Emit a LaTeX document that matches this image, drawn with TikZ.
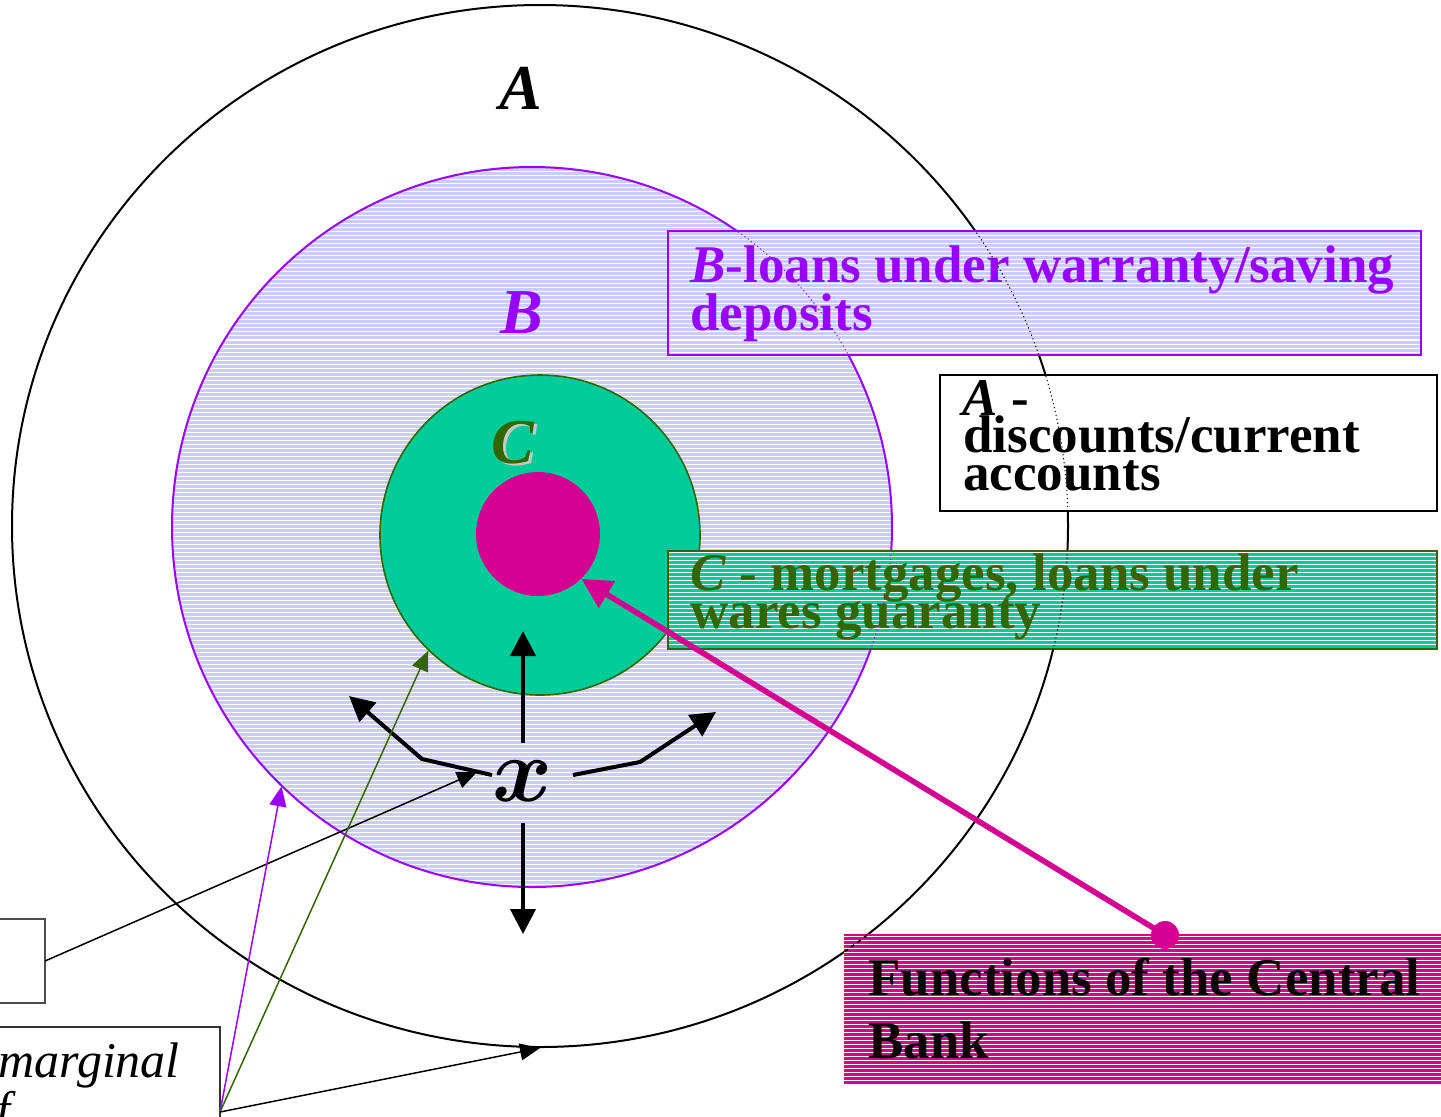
\documentclass[tikz,border=0pt]{standalone}
\usepackage{graphicx}
\usepackage{fontspec}
\setmainfont{Liberation Serif}
\usetikzlibrary{arrows.meta,patterns.meta,shapes.geometric}
\definecolor{bpurple}{RGB}{153,0,255}
\definecolor{lav}{RGB}{204,204,255}
\definecolor{cgreen}{RGB}{0,204,153}
\definecolor{dgreen}{RGB}{51,102,0}
\definecolor{mag}{RGB}{212,0,145}
\definecolor{shadowgrey}{RGB}{200,200,200}
\tikzset{
  stripes/.style={preaction={fill=#1}, pattern={Lines[angle=0,distance=2pt,line width=0.5pt]}, pattern color=white},
  boxnode/.style={rectangle, anchor=north west, inner sep=0pt, outer sep=0pt},
  boxtext/.style={anchor=base west, inner sep=0pt, font=\fontsize{26.5}{26.5}\selectfont\bfseries},
  biglabel/.style={anchor=base, inner sep=0pt, font=\fontsize{32}{32}\selectfont\bfseries\itshape},
  thk/.style={line width=2pt, -{Triangle[length=12.5pt,width=12.5pt]}},
  thn/.style={line width=0.75pt, -{Triangle[length=10pt,width=8.5pt]}},
  ghost/.style={line width=0.5pt, dash pattern=on 0.6pt off 1.4pt},
}
\begin{document}
\begin{tikzpicture}[x=0.5pt,y=-0.5pt]
\useasboundingbox (0,0) rectangle (1441,1116);
\clip (0,0) rectangle (1441,1116);
\fill[white] (0,0) rectangle (1441,1116);

% circles
\node[ellipse, draw, line width=1pt, minimum width=528pt, minimum height=521pt, inner sep=0pt] (circA) at (540,526) {};
\node[circle, draw=bpurple, line width=1pt, stripes=lav, minimum size=360pt, inner sep=0pt] (circB) at (532,527) {};
\node[circle, draw=dgreen, line width=0.8pt, fill=cgreen, minimum size=160pt, inner sep=0pt] (circC) at (540,535) {};
\node[circle, fill=mag, minimum size=62pt, inner sep=0pt] (pinkc) at (538,534) {};

% circle labels
\node[biglabel] (labA) at (521,109) {A};
\node[biglabel, text=bpurple] (labB) at (522,333) {B};
\node[biglabel, text=shadowgrey] (labCs) at (516,465) {C};
\node[biglabel, text=dgreen] (labC) at (513,463) {C};

% boxes
\node[boxnode, draw=bpurple, line width=1pt, stripes=lav, minimum width=376.5pt, minimum height=62pt] (boxB) at (668,231) {};
\node[boxnode, draw=black, line width=1pt, fill=white, minimum width=248.5pt, minimum height=68pt] (boxA) at (940,375) {};
\node[boxnode, draw=dgreen, line width=1pt, stripes=cgreen, minimum width=384.5pt, minimum height=49pt] (boxC) at (668,551) {};
\node[boxnode, stripes=mag, minimum width=300pt, minimum height=75.5pt] (boxF) at (844,934) {};
\node[boxnode, draw=black!70, line width=0.6pt, fill=white, minimum width=30pt, minimum height=42pt] (box1) at (-15,919) {};
\node[boxnode, draw=black!80, line width=0.6pt, fill=white, minimum width=120pt, minimum height=60pt] (box2) at (-20,1027) {};

% circle outlines showing through the striped boxes
\begin{scope}
\clip (boxB.south west) rectangle (boxB.north east);
\draw[ghost, black] (540,526) ellipse [x radius=528, y radius=521];
\draw[ghost, bpurple] (532,527) circle [radius=360];
\end{scope}
\begin{scope}
\clip (boxA.south west) rectangle (boxA.north east);
\draw[ghost, black] (540,526) ellipse [x radius=528, y radius=521];
\end{scope}
\begin{scope}
\clip (boxC.south west) rectangle (boxC.north east);
\draw[ghost, black] (540,526) ellipse [x radius=528, y radius=521];
\draw[ghost, bpurple] (532,527) circle [radius=360];
\end{scope}
\begin{scope}
\clip (boxF.south west) rectangle (boxF.north east);
\draw[ghost, black, line width=0.8pt, dash pattern=on 2pt off 2pt] (540,526) ellipse [x radius=528, y radius=521];
\end{scope}

% box texts
\node[boxtext, text=bpurple] (tB1) at (690,282) {\textit{B}-loans under warranty/saving};
\node[boxtext, text=bpurple] (tB2) at (690,330) {deposits};
\node[boxtext] (tA1) at (962,415) {\textit{A} -};
\node[boxtext] (tA2) at (963,452) {discounts/current};
\node[boxtext] (tA3) at (963,490) {accounts};
\node[boxtext, text=dgreen] (tC1) at (690,590) {\textit{C} - mortgages, loans under};
\node[boxtext, text=dgreen] (tC2) at (690,628) {wares guaranty};
\node[boxtext] (tF1) at (868,995) {Functions of the Central};
\node[boxtext] (tF2) at (868,1058) {Bank};
\node[anchor=base west, inner sep=0pt, font=\fontsize{25}{25}\selectfont\itshape] (tM1) at (-2,1077) {marginal};
\node[anchor=base west, inner sep=0pt, font=\fontsize{25}{25}\selectfont\itshape] (tM2) at (-4,1126) {f};

% x and its arrows
\node[anchor=base, inner sep=0pt, font=\fontsize{20.74}{20.74}\selectfont\boldmath] (xl) at (523,801) {\scalebox{2.2}{$x$}};
\coordinate (upS) at (523,743);
\coordinate (upE) at (523,631);
\coordinate (dnS) at (523,823);
\coordinate (dnE) at (523,934);
\coordinate (lS) at (492,775);
\coordinate (lM) at (422,759);
\coordinate (lE) at (349,696);
\coordinate (rS) at (573,775);
\coordinate (rM) at (640,762);
\coordinate (rE) at (716,712);
\draw[thk] (upS) -- (upE);
\draw[thk] (dnS) -- (dnE);
\draw[thk, line join=miter] (lS) -- (lM) -- (lE);
\draw[thk, line join=miter] (rS) -- (rM) -- (rE);

% thin pointers from the lower left boxes
\coordinate (xin) at (477,772);
\coordinate (mp) at (220,1112);
\draw[thn, black] (box1.east) -- (xin);
\draw[thn, bpurple] (mp) -- (circB.-134.3);
\draw[thn, dgreen] (mp) -- (circC.-134.2);
\draw[thn, black] (mp) -- (circA.south);

% central bank pointer
\node[circle, fill=mag, minimum size=14pt, inner sep=0pt] (dot) at (1165,935) {};
\draw[mag, line width=2.8pt, -{Triangle[length=15pt,width=15pt]}] (dot.center) -- (pinkc.-46);
\end{tikzpicture}
\end{document}
